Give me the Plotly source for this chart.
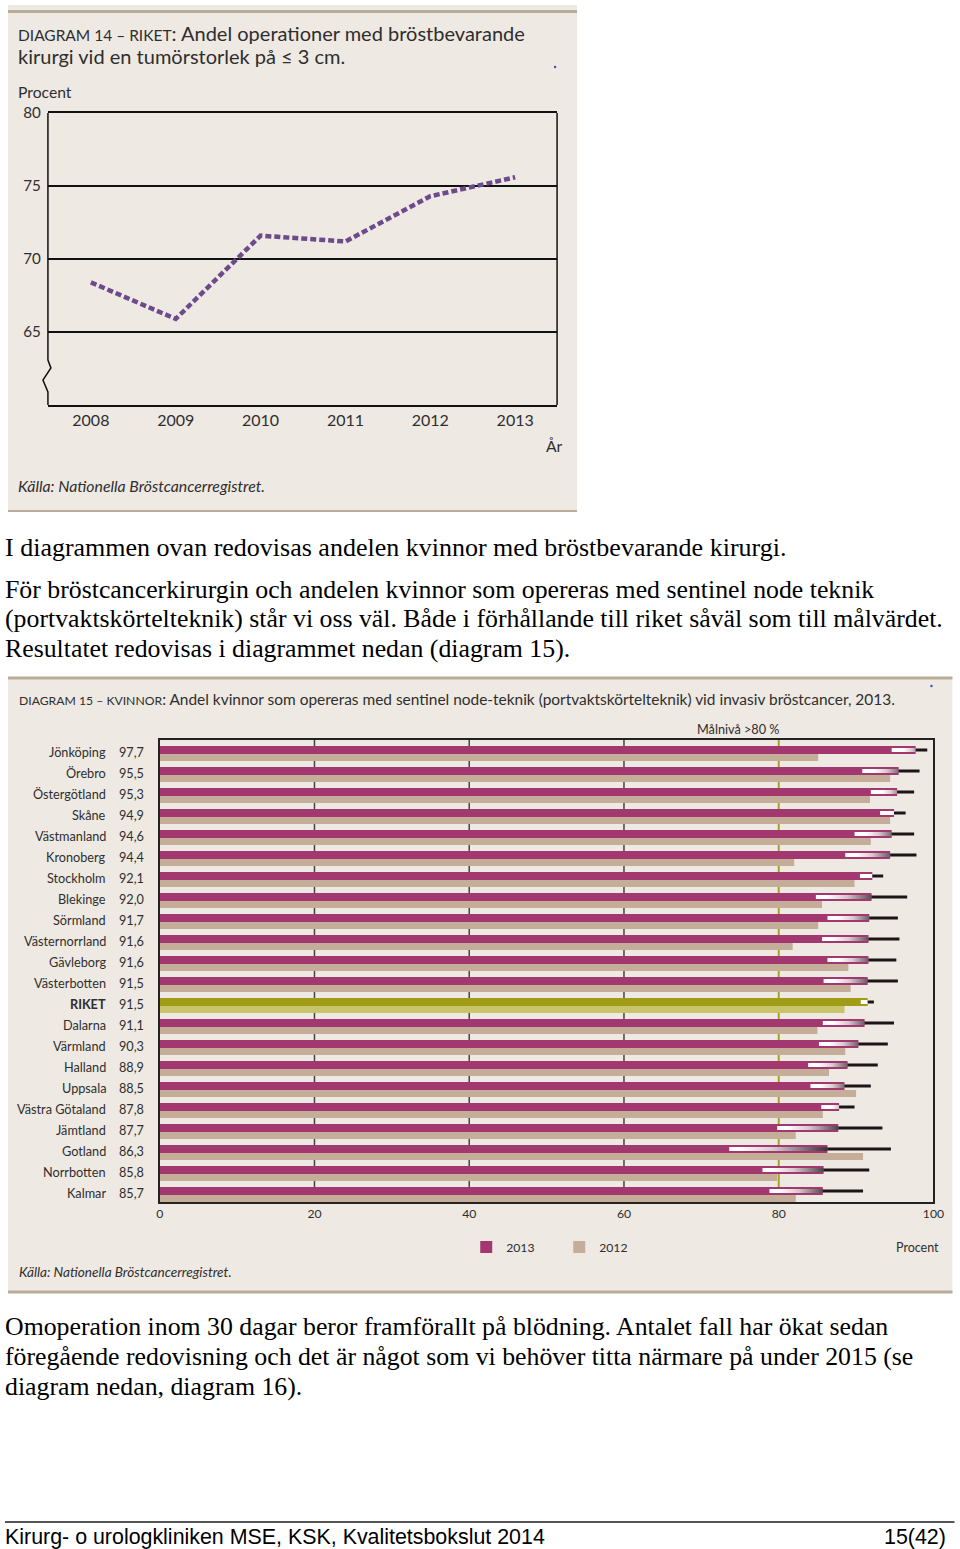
import plotly.graph_objects as go

W, H = 960, 1549
# measured page placement of the figure (scale/offset) used to map reference pixels
SX, OX = 0.986, 3.0
SY, OY = 0.9935, 10.0


def px(x):
    return (x - OX) / SX / W


def py(y):
    return 1 - (y - OY) / SY / H


# ---------------- Data: Diagram 14 ----------------
years = [2008, 2009, 2010, 2011, 2012, 2013]
share_bcs = [68.4, 65.9, 71.6, 71.2, 74.3, 75.6]
y14_ticks = [65, 70, 75, 80]

# ---------------- Data: Diagram 15 ----------------
regions = ["Jönköping", "Örebro", "Östergötland", "Skåne", "Västmanland", "Kronoberg",
           "Stockholm", "Blekinge", "Sörmland", "Västernorrland", "Gävleborg",
           "Västerbotten", "RIKET", "Dalarna", "Värmland", "Halland", "Uppsala",
           "Västra Götaland", "Jämtland", "Gotland", "Norrbotten", "Kalmar"]
val_2013 = [97.7, 95.5, 95.3, 94.9, 94.6, 94.4, 92.1, 92.0, 91.7, 91.6, 91.6,
            91.5, 91.5, 91.1, 90.3, 88.9, 88.5, 87.8, 87.7, 86.3, 85.8, 85.7]
val_2012 = [85.1, 94.4, 91.8, 94.4, 91.9, 82.0, 89.8, 85.6, 85.1, 81.8, 89.0,
            89.3, 88.5, 85.0, 88.6, 86.5, 90.0, 85.7, 82.2, 90.9, 79.8, 82.2]
ci_low = [94.6, 90.8, 91.9, 93.1, 89.8, 88.6, 90.5, 84.8, 86.3, 85.6, 86.3,
          85.8, 90.6, 85.7, 85.2, 83.8, 84.1, 85.5, 79.8, 73.6, 77.9, 78.8]
ci_high = [99.2, 98.2, 97.5, 96.4, 97.5, 97.8, 93.5, 96.6, 95.4, 95.6, 95.2,
           95.4, 92.3, 94.9, 94.1, 92.8, 91.9, 89.8, 93.4, 94.5, 91.7, 90.9]
x15_ticks = [0, 20, 40, 60, 80, 100]
grid15 = [20, 40, 60]
target = 80

# ---------------- Styles ----------------
PANEL_BG = "#EEE9E3"
PANEL_EDGE = "#B9AC99"
MAGENTA = "#A3376F"
TAN = "#C4AE99"
OLIVE_D = "#A19C17"
OLIVE_L = "#C9C46B"
PURPLE = "#6C4A8C"
TXT = "#2e2e2e"
SANS = "Lato"
SERIF = "Liberation Serif"

fig = go.Figure()

# ---- Diagram 14 line ----
fig.add_trace(go.Scatter(
    x=years, y=share_bcs, mode="lines",
    line=dict(color=PURPLE, width=4.5, dash="6px,3px"),
    xaxis="x", yaxis="y", showlegend=False, hoverinfo="skip"))

# ---- Diagram 15 bars ----
n = len(regions)
rows = list(range(n))
col13 = [OLIVE_D if r == "RIKET" else MAGENTA for r in regions]
col12 = [OLIVE_L if r == "RIKET" else TAN for r in regions]
PITCH = 21.0
fig.add_trace(go.Bar(
    x=val_2013, y=rows, orientation="h", offset=6 / PITCH, width=8 / PITCH,
    marker=dict(color=col13, line=dict(width=0)), name="2013",
    xaxis="x2", yaxis="y2", hoverinfo="skip"))
fig.add_trace(go.Bar(
    x=val_2012, y=rows, orientation="h", offset=14 / PITCH, width=7 / PITCH,
    marker=dict(color=col12, line=dict(width=0)), name="2012",
    xaxis="x2", yaxis="y2", hoverinfo="skip"))

# confidence intervals: gradient from lower bound to value, black line to upper bound
cy = 10 / PITCH
hh = 2 / PITCH
for i in rows:
    lo, v = ci_low[i], val_2013[i]
    fig.add_trace(go.Scatter(
        x=[lo, v, v, lo, lo], y=[i + cy - hh, i + cy - hh, i + cy + hh, i + cy + hh, i + cy - hh],
        mode="lines", line=dict(width=0), fill="toself",
        fillgradient=dict(type="horizontal", start=lo, stop=v,
                          colorscale=[[0, "#ffffff"], [0.35, "#d9c9d2"], [1, "#1e1418"]]),
        xaxis="x2", yaxis="y2", showlegend=False, hoverinfo="skip"))
hx, hy = [], []
for i in rows:
    hx += [val_2013[i], ci_high[i], None]
    hy += [i + cy, i + cy, None]
fig.add_trace(go.Scatter(x=hx, y=hy, mode="lines", line=dict(color="#1c1416", width=3),
                         xaxis="x2", yaxis="y2", showlegend=False, hoverinfo="skip"))

shapes = []
# panel backgrounds
shapes.append(dict(type="rect", xref="paper", yref="paper", x0=px(7), x1=px(577), y0=py(512), y1=py(5),
                   fillcolor=PANEL_BG, line=dict(width=0), layer="below"))
shapes.append(dict(type="line", xref="paper", yref="paper", x0=px(7), x1=px(577), y0=py(11.5), y1=py(11.5),
                   line=dict(color=PANEL_EDGE, width=3), layer="below"))
shapes.append(dict(type="line", xref="paper", yref="paper", x0=px(7), x1=px(577), y0=py(511), y1=py(511),
                   line=dict(color=PANEL_EDGE, width=2), layer="below"))
shapes.append(dict(type="rect", xref="paper", yref="paper", x0=px(7), x1=px(953), y0=py(1293), y1=py(677),
                   fillcolor=PANEL_BG, line=dict(width=0), layer="below"))
shapes.append(dict(type="line", xref="paper", yref="paper", x0=px(7), x1=px(953), y0=py(678), y1=py(678),
                   line=dict(color=PANEL_EDGE, width=3), layer="below"))
shapes.append(dict(type="line", xref="paper", yref="paper", x0=px(7), x1=px(953), y0=py(1292), y1=py(1292),
                   line=dict(color=PANEL_EDGE, width=3), layer="below"))
# diagram 14 left border with axis break, and right border
L14, R14, T14, B14 = 47, 557, 113, 405
path = (f"M {px(L14)},{py(T14)} L {px(L14)},{py(360)} L {px(50)},{py(368)} L {px(42)},{py(380)} "
        f"L {px(L14)},{py(392)} L {px(L14)},{py(B14)}")
shapes.append(dict(type="path", xref="paper", yref="paper", path=path,
                   line=dict(color="#111", width=1.5), layer="above"))
shapes.append(dict(type="line", xref="paper", yref="paper", x0=px(R14), x1=px(R14), y0=py(B14), y1=py(T14),
                   line=dict(color="#111", width=1.5), layer="above"))
# diagram 15 grid lines and target line
for g in grid15:
    shapes.append(dict(type="line", xref="x2", yref="y2 domain", x0=g, x1=g, y0=0, y1=1,
                       line=dict(color="#444", width=1.5), layer="below"))
shapes.append(dict(type="line", xref="x2", yref="y2 domain", x0=target, x1=target, y0=0, y1=1,
                   line=dict(color="#A8A31E", width=2), layer="below"))
# tiny blue dots
for (dx, dy) in [(555, 67), (932, 686)]:
    shapes.append(dict(type="circle", xref="paper", yref="paper", x0=px(dx - 1.2), x1=px(dx + 1.2),
                       y0=py(dy + 1.2), y1=py(dy - 1.2), fillcolor="#3b4bd0", line=dict(width=0)))
# footer rule
shapes.append(dict(type="line", xref="paper", yref="paper", x0=px(4), x1=px(955), y0=py(1522), y1=py(1522),
                   line=dict(color="#555", width=2)))

ann = []


def txt(x, y, s, size, color=TXT, family=SANS, xanchor="left", yanchor="middle", xref="paper", yref="paper"):
    shift = -2 if xanchor == "left" else (2 if xanchor == "right" else 0)
    ann.append(dict(x=x, y=y, xref=xref, yref=yref, text=s, showarrow=False, xanchor=xanchor, yanchor=yanchor,
                    align="left", xshift=shift, font=dict(size=size, color=color, family=family)))


# Diagram 14 texts
txt(px(17), py(33), "<span style='font-size:15.5px'>DIAGRAM 14 – RIKET</span>: Andel operationer med bröstbevarande",
    20)
txt(px(17), py(56), "kirurgi vid en tumörstorlek på ≤ 3 cm.", 20)
txt(px(17), py(92), "Procent", 15.7)
txt(px(546), py(446), "År", 15.7)
txt(px(17), py(485), "<i>Källa: Nationella Bröstcancerregistret.</i>", 15.8)

# Body text
body1 = ["I diagrammen ovan redovisas andelen kvinnor med bröstbevarande kirurgi."]
body2 = ["För bröstcancerkirurgin och andelen kvinnor som opereras med sentinel node teknik",
         "(portvaktskörtelteknik) står vi oss väl. Både i förhållande till riket såväl som till målvärdet.",
         "Resultatet redovisas i diagrammet nedan (diagram 15)."]
body3 = ["Omoperation inom 30 dagar beror framförallt på blödning. Antalet fall har ökat sedan",
         "föregående redovisning och det är något som vi behöver titta närmare på under 2015 (se",
         "diagram nedan, diagram 16)."]
txt(px(4), py(547), body1[0], 26.0, color="#000", family=SERIF)
for k, line in enumerate(body2):
    txt(px(4), py(589 + 29.5 * k), line, 25.8, color="#000", family=SERIF)
for k, line in enumerate(body3):
    txt(px(4), py(1326 + 30 * k), line, 25.8, color="#000", family=SERIF)

# Diagram 15 texts
txt(px(18), py(699), "<span style='font-size:12.2px'>DIAGRAM 15 – KVINNOR</span>: Andel kvinnor som opereras med "
    "sentinel node-teknik (portvaktskörtelteknik) vid invasiv bröstcancer, 2013.", 15.45)
txt(px(738), py(729), "Målnivå >80 %", 12.7, xanchor="center")
for i, r in enumerate(regions):
    name = f"<b>{r}</b>" if r == "RIKET" else r
    txt(px(105), i + 0.55, name, 12.7, xanchor="right", yref="y2")
    txt(px(143), i + 0.55, f"{val_2013[i]:.1f}".replace(".", ","), 12.7, xanchor="right", yref="y2")
txt(px(940), py(1247), "Procent", 12.5, xanchor="right")
txt(px(18), py(1272), "<i>Källa: Nationella Bröstcancerregistret.</i>", 13.6)

# Footer
txt(px(4), py(1537), "Kirurg- o urologkliniken MSE, KSK, Kvalitetsbokslut 2014", 21.4, color="#000",
    family="Liberation Sans")
txt(min(px(951), 0.997), py(1537), "15(42)", 21.4, color="#000", family="Liberation Sans", xanchor="right")

fig.update_layout(
    width=W, height=H, margin=dict(l=0, r=0, t=0, b=0),
    paper_bgcolor="white", plot_bgcolor="white",
    barmode="overlay",
    shapes=shapes, annotations=ann,
    font=dict(family=SANS, color=TXT),
    showlegend=True,
    legend=dict(orientation="h", x=px(466), y=py(1247), xanchor="left", yanchor="middle",
                bgcolor="rgba(0,0,0,0)", font=dict(size=12.2, color=TXT, family=SANS),
                entrywidth=48, entrywidthmode="pixels", itemwidth=30, traceorder="normal"),
    xaxis=dict(domain=[px(L14), px(R14)], range=[2007.494, 2013.494], tickvals=years,
               ticktext=[str(y) for y in years], showgrid=False, zeroline=False,
               showline=True, mirror=True, linecolor="#111", linewidth=1.5, ticks="",
               tickfont=dict(size=16, color=TXT), anchor="y", fixedrange=True),
    yaxis=dict(domain=[py(B14), py(T14)], range=[60, 80], tickvals=y14_ticks,
               showgrid=True, gridcolor="#111", gridwidth=1.5, zeroline=False, showline=False,
               ticks="", ticklabelstandoff=6, tickfont=dict(size=15.2, color=TXT), anchor="x"),
    xaxis2=dict(domain=[px(159), px(934)], range=[0, 100], tickvals=x15_ticks, showgrid=False,
                zeroline=False, showline=True, mirror=True, linecolor="#222", linewidth=1.5,
                ticks="", tickfont=dict(size=12.2, color=TXT), anchor="y2"),
    yaxis2=dict(domain=[py(1202), py(740)], range=[n, 0], showticklabels=False, showgrid=False,
                zeroline=False, showline=True, mirror=True, linecolor="#222", linewidth=1.5,
                ticks="", anchor="x2"),
)

fig.write_html("out.html", config={"displayModeBar": False},
               post_script="document.body.style.margin='0';document.body.style.overflow='hidden';")
